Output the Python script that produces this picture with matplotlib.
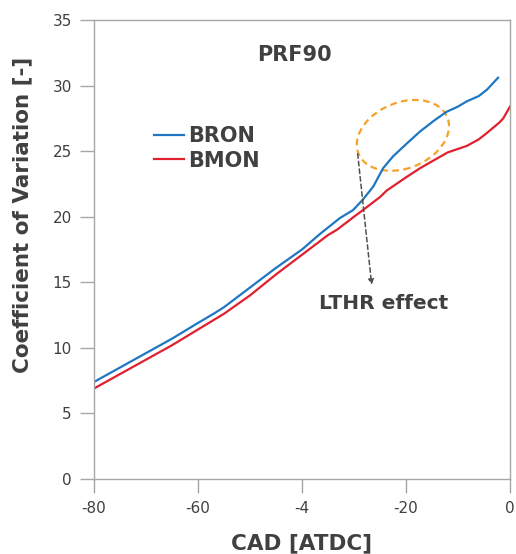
import matplotlib.pyplot as plt
from matplotlib.patches import Ellipse

# data
cad_bron = [-80, -75, -70, -65, -60, -57, -55, -50, -45, -40, -36.5, -32.7, -30.2, -28.3,
            -26.3, -24.4, -22.5, -19.8, -17.3, -14.7, -12.2, -10, -8.3, -6, -4.4, -2.3]
cov_bron = [7.4, 8.5, 9.6, 10.7, 11.9, 12.6, 13.1, 14.6, 16.1, 17.5, 18.7, 19.9, 20.5, 21.3,
            22.3, 23.7, 24.6, 25.6, 26.5, 27.3, 28.0, 28.4, 28.8, 29.2, 29.7, 30.6]

cad_bmon = [-80, -75, -70, -65, -60, -55, -50, -45, -40, -35, -33.3, -30, -28.3, -25, -23.7,
            -20, -17.3, -12, -8.3, -6, -4.4, -2, -1.3, 0]
cov_bmon = [6.9, 8.0, 9.1, 10.2, 11.4, 12.6, 14.0, 15.6, 17.1, 18.6, 19.0, 20.0, 20.5, 21.5, 22.0,
            23.0, 23.7, 24.9, 25.4, 25.9, 26.4, 27.2, 27.5, 28.4]

xticks = [-80, -60, -40, -20, 0]
xticklabels = ['-80', '-60', '-4', '-20', '0']
yticks = [0, 5, 10, 15, 20, 25, 30, 35]

txt = '#404040'
gray = '#a6a6a6'

fig = plt.figure(figsize=(5.16, 5.54), dpi=100)
ax = fig.add_axes([0.1822, 0.1354, 0.8062, 0.8285])

ax.plot(cad_bron, cov_bron, color='#1f77c4', lw=1.6, label='BRON')
ax.plot(cad_bmon, cov_bmon, color='#e0202e', lw=1.6, label='BMON')

ax.set_xlim(-80, 0)
ax.set_ylim(0, 35)
ax.set_xticks(xticks)
ax.set_xticklabels(xticklabels)
ax.set_yticks(yticks)
ax.tick_params(direction='out', length=10, width=1, color=gray,
               labelcolor=txt, labelsize=11, pad=6)
for s in ax.spines.values():
    s.set_color(gray)
    s.set_linewidth(1)

ax.set_xlabel('CAD [ATDC]', fontsize=15.5, fontweight='bold', color=txt, labelpad=12)
ax.set_ylabel('Coefficient of Variation [-]', fontsize=15.5, fontweight='bold', color=txt)
ax.yaxis.set_label_coords(-0.148, 0.575)

ax.text(-41.5, 32.3, 'PRF90', fontsize=15, fontweight='bold', color=txt, ha='center', va='center')

leg = ax.legend(loc='center left', bbox_to_anchor=(0.1, 0.72), frameon=False,
                handlelength=1.4, handletextpad=0.2, labelspacing=0.2,
                prop={'size': 15, 'weight': 'bold'})
for t in leg.get_texts():
    t.set_color(txt)

ell = Ellipse((-20.6, 26.2), 17.8, 5.2, angle=5, fill=False,
              edgecolor='#f5a22a', lw=1.6, ls=(0, (3, 2)))
ax.add_patch(ell)

ax.annotate('', xy=(-26.6, 14.8), xytext=(-29.3, 24.8),
            arrowprops=dict(arrowstyle='-|>', color='#505050', lw=1.1,
                            ls=(0, (3, 2)), mutation_scale=8, shrinkA=0, shrinkB=0))
ax.text(-24.3, 13.4, 'LTHR effect', fontsize=14.5, fontweight='bold', color=txt,
        ha='center', va='center')

fig.savefig('out.png', dpi=100)
